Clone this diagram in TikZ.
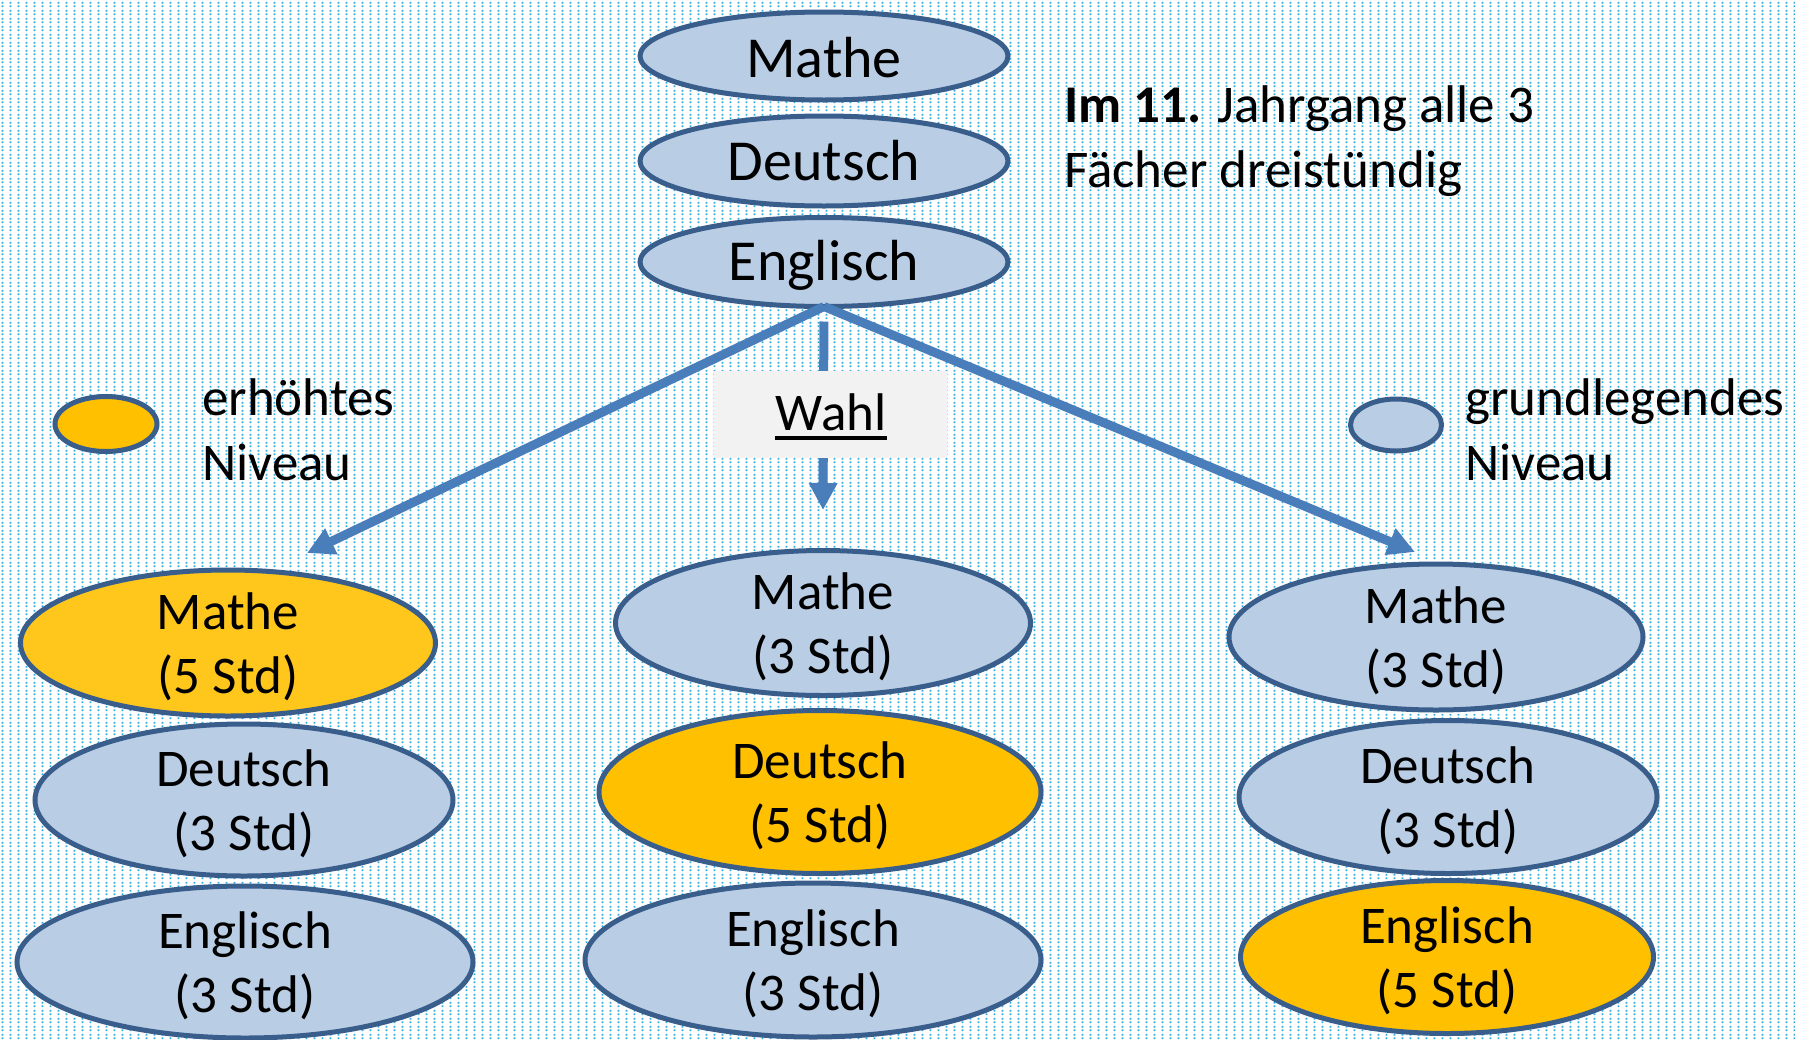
\documentclass[tikz,border=0pt]{standalone}
\usepackage{fontspec}
\setmainfont{Carlito}
\usetikzlibrary{arrows.meta,shapes.geometric,patterns}
\definecolor{fillblue}{HTML}{B9CDE5}
\definecolor{edgeblue}{HTML}{3A5E8C}
\definecolor{arrowblue}{HTML}{4A7EBB}
\definecolor{fillorange}{HTML}{FFC000}
\definecolor{fillorangeb}{HTML}{FFC71C}
\definecolor{dotcyan}{HTML}{2AA8E0}
\definecolor{wahlgray}{HTML}{F2F2F2}
\pgfdeclarepatternformonly{bgdots}{\pgfpointorigin}{\pgfpoint{8pt}{8pt}}{\pgfpoint{8pt}{8pt}}{%
  \pgfpathrectangle{\pgfpoint{3pt}{1pt}}{\pgfpoint{2pt}{2pt}}%
  \pgfpathrectangle{\pgfpoint{3pt}{5pt}}{\pgfpoint{2pt}{2pt}}\pgfusepath{fill}}
\tikzset{
  subj/.style={ellipse, draw=edgeblue, line width=5pt, inner sep=0pt, outer sep=0pt},
  gl/.style={subj, fill=fillblue},
  eh/.style={subj, fill=fillorange},
  toptxt/.style={anchor=base, inner sep=0pt, font=\fontsize{58}{68}\selectfont},
  subjtxt/.style={align=center, inner sep=0pt, yshift=-4pt, font=\fontsize{53}{64}\selectfont},
  lab/.style={anchor=base west, inner sep=0pt, font=\fontsize{53}{65}\selectfont},
  arr/.style={draw=arrowblue, line width=9pt, -{Triangle[length=27pt,width=27pt]}},
  sz/.style 2 args={minimum width=#1pt, minimum height=#2pt}
}
\begin{document}
\begin{tikzpicture}[x=1pt,y=-1pt]
\useasboundingbox (0,0) rectangle (1795,1039);
\fill[white] (0,0) rectangle (1795,1039);
\fill[pattern=bgdots, pattern color=dotcyan] (0,0) rectangle (1795,1039);

% top ellipses
\node[gl, sz={368}{88}] (tm) at (824,56) {};
\node[gl, sz={368}{90}] (td) at (824,161) {};
\node[gl, sz={368}{89}] (te) at (824,262) {};
\node[toptxt] (tmt) at (824,77) {Mathe};
\node[toptxt] (tdt) at (824,180) {Deutsch};
\node[toptxt] (tet) at (824,280) {Englisch};

% info text
\node[lab] (info1) at (1064,122) {\textbf{Im 11.} Jahrgang alle 3};
\node[lab] (info2) at (1064,187) {Fächer dreistündig};

% legends
\node[eh, sz={102}{55}] (legeh) at (106,424) {};
\node[lab] (leh1) at (202,415) {erhöhtes};
\node[lab] (leh2) at (202,480) {Niveau};
\node[gl, sz={91}{52}] (leggl) at (1396,425) {};
\node[lab] (lgr1) at (1465,415) {grundlegendes};
\node[lab] (lgr2) at (1465,480) {Niveau};

% lower left column
\node[subj, fill=fillorangeb, sz={415}{146}] (lm) at (228,643) {};
\node[gl, sz={418}{152}] (ld) at (244,800) {};
\node[gl, sz={456}{152}] (le) at (245,962) {};
% middle column
\node[gl, sz={415}{145}] (mm) at (823,623) {};
\node[eh, sz={442}{163}] (md) at (820,792) {};
\node[gl, sz={456}{154}] (me) at (813,960) {};
% right column
\node[gl, sz={414}{146}] (rm) at (1436,637) {};
\node[gl, sz={418}{153}] (rd) at (1448,797) {};
\node[eh, sz={413}{153}] (re) at (1447,957) {};

\node[subjtxt] (lmt) at (lm.center) {Mathe\\(5 Std)};
\node[subjtxt] (ldt) at (ld.center) {Deutsch\\(3 Std)};
\node[subjtxt] (let) at (le.center) {Englisch\\(3 Std)};
\node[subjtxt] (mmt) at (mm.center) {Mathe\\(3 Std)};
\node[subjtxt] (mdt) at (md.center) {Deutsch\\(5 Std)};
\node[subjtxt] (met) at (me.center) {Englisch\\(3 Std)};
\node[subjtxt] (rmt) at (rm.center) {Mathe\\(3 Std)};
\node[subjtxt] (rdt) at (rd.center) {Deutsch\\(3 Std)};
\node[subjtxt] (ret) at (re.center) {Englisch\\(5 Std)};

% arrows
\coordinate (ltip) at (307,553);
\coordinate (rtip) at (1415,552);
\coordinate (ctip) at (823,510);
\draw[arr] (te.south) -- (ltip);
\draw[arr] (te.south) -- (rtip);
\draw[arr, shorten <=15pt] (te.south) -- (ctip);

% Wahl box
\node[fill=wahlgray, minimum width=233pt, minimum height=87pt, inner sep=0pt] (wahlbox) at (830.5,414.5) {};
\node[anchor=base, inner sep=0pt, font=\fontsize{53}{64}\selectfont] (wahl) at (831,430) {Wahl};
\draw[line width=4pt] ([yshift=-8pt]wahl.base west) -- ([yshift=-8pt]wahl.base east);
\end{tikzpicture}
\end{document}
